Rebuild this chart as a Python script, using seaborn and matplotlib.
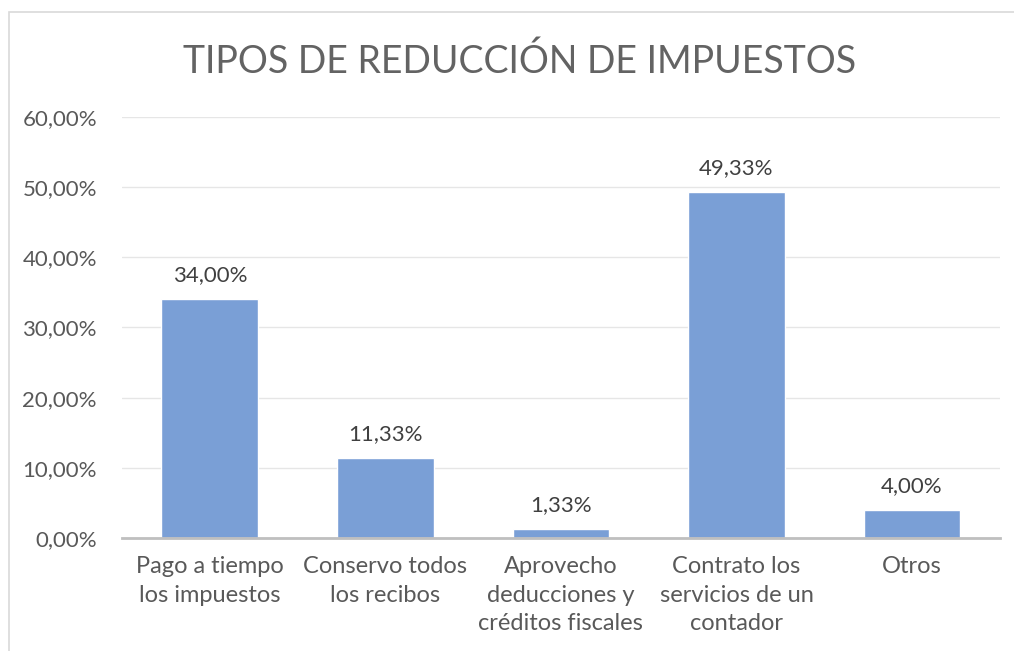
import matplotlib
matplotlib.use("Agg")
import matplotlib.pyplot as plt
import seaborn as sns
import pandas as pd
from matplotlib.patches import Rectangle

# Chart data
categories = [
    "Pago a tiempo\nlos impuestos",
    "Conservo todos\nlos recibos",
    "Aprovecho\ndeducciones y\ncréditos fiscales",
    "Contrato los\nservicios de un\ncontador",
    "Otros",
]
values = [34.00, 11.33, 1.33, 49.33, 4.00]
yticks = [0, 10, 20, 30, 40, 50, 60]

df = pd.DataFrame({"categoria": categories, "valor": values})

sns.set_theme(style="white")
plt.rcParams["font.family"] = ["Lato", "DejaVu Sans"]

text_col = "#595959"

fig = plt.figure(figsize=(10.14, 6.51), dpi=100)
ax = fig.add_axes([0.1203, 0.1736, 0.8657, 0.6467])

sns.barplot(data=df, x="categoria", y="valor", color="#7A9FD6", saturation=1,
            width=0.55, ax=ax, zorder=3)

ax.set_ylim(0, 60)
ax.set_yticks(yticks)
ax.set_yticklabels([f"{t:.2f}%".replace(".", ",") for t in yticks],
                   fontsize=16, color=text_col)
ax.set_xticklabels(categories, fontsize=17, color=text_col, linespacing=1.45)
ax.tick_params(axis="x", length=0, pad=13)
ax.tick_params(axis="y", length=0, pad=18)
ax.set_xlabel("")
ax.set_ylabel("")
ax.yaxis.grid(True, color="#E6E6E6", linewidth=1, zorder=0)
ax.set_xlim(-0.5, 4.5)

for s in ["top", "right", "left"]:
    ax.spines[s].set_visible(False)
ax.spines["bottom"].set_color("#BFBFBF")
ax.spines["bottom"].set_linewidth(2)
ax.spines["bottom"].set_zorder(4)

for i, v in enumerate(values):
    ax.text(i, v + 2.0, f"{v:.2f}%".replace(".", ","), ha="center", va="bottom",
            fontsize=16, color="#404040")

fig.text(0.512, 0.905, "TIPOS DE REDUCCIÓN DE IMPUESTOS", ha="center", va="center",
         fontsize=27, color="#636363")

# chart border
fig.patches.append(Rectangle((9 / 1014, -0.05), 1.1, 1 - 12 / 651 + 0.05,
                             transform=fig.transFigure, fill=False,
                             edgecolor="#D9D9D9", linewidth=1.2))

fig.savefig("out.png", dpi=100)
